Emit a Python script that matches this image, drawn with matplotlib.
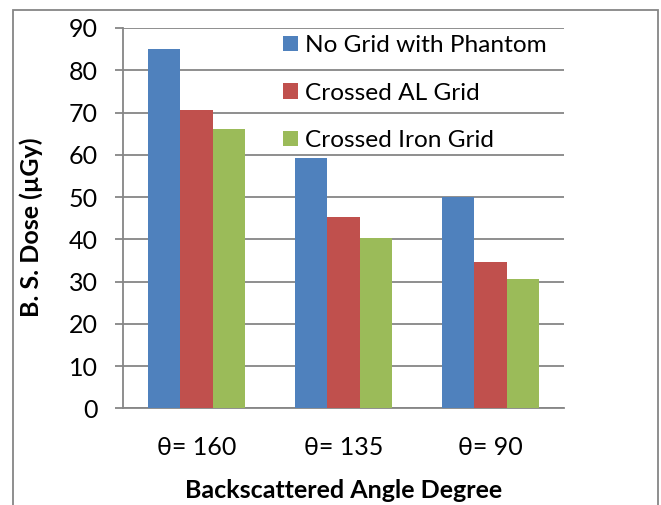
import matplotlib.pyplot as plt
import numpy as np
from matplotlib.patches import Rectangle

# Data
angles = ['θ= 160', 'θ= 135', 'θ= 90']
no_grid_phantom = [85.0, 59.3, 50.0]
crossed_al_grid = [70.6, 45.2, 34.6]
crossed_iron_grid = [66.2, 40.2, 30.6]
series_names = ['No Grid with Phantom', 'Crossed AL Grid', 'Crossed Iron Grid']
y_ticks = [0, 10, 20, 30, 40, 50, 60, 70, 80, 90]

colors = ['#4F81BD', '#C0504D', '#9BBB59']
grid_gray = '#868686'

plt.rcParams['font.family'] = ['Lato', 'DejaVu Sans']
fs = 18

fig = plt.figure(figsize=(6.61, 5.05), dpi=100)
ax = fig.add_axes([123 / 661, 1 - 408.3 / 505, 441 / 661, 380.3 / 505])

x = np.arange(len(angles))
w = 0.221
for i, vals in enumerate([no_grid_phantom, crossed_al_grid, crossed_iron_grid]):
    ax.bar(x + (i - 1) * w, vals, width=w, color=colors[i], label=series_names[i], zorder=3)

ax.set_xlim(-0.5, 2.5)
ax.set_ylim(0, 90)
ax.set_yticks(y_ticks)
ax.set_xticks(x)
ax.set_xticklabels(angles)
ax.grid(axis='y', color=grid_gray, linewidth=1.3, zorder=0)

for s in ['top', 'right']:
    ax.spines[s].set_visible(False)
for s in ['left', 'bottom']:
    ax.spines[s].set_color(grid_gray)
    ax.spines[s].set_linewidth(1.3)

ax.tick_params(axis='y', length=6, color=grid_gray, width=1.3, pad=12, labelsize=fs)
ax.tick_params(axis='x', length=0, pad=20, labelsize=fs)

ax.set_xlabel('Backscattered Angle Degree', fontsize=fs, fontweight='bold', labelpad=14)
ax.set_ylabel('B. S. Dose (µGy)', fontsize=fs, fontweight='bold', va='center')
ax.yaxis.set_label_coords(-92 / 441, 0.475)

ax.legend(loc='upper left', bbox_to_anchor=(283 / 661, 1 - 35 / 505),
          bbox_transform=fig.transFigure, frameon=False, fontsize=17.6,
          borderpad=0, borderaxespad=0, handlelength=0.6, handleheight=0.6,
          handletextpad=0.3, labelspacing=1.09)

# outer chart border
fig.patches.append(Rectangle((12.7 / 661, -0.05), (658 - 12.7) / 661, 1.05 - 10 / 505,
                             transform=fig.transFigure, fill=False,
                             edgecolor=grid_gray, linewidth=1.3))

fig.savefig('out.png', dpi=100)
